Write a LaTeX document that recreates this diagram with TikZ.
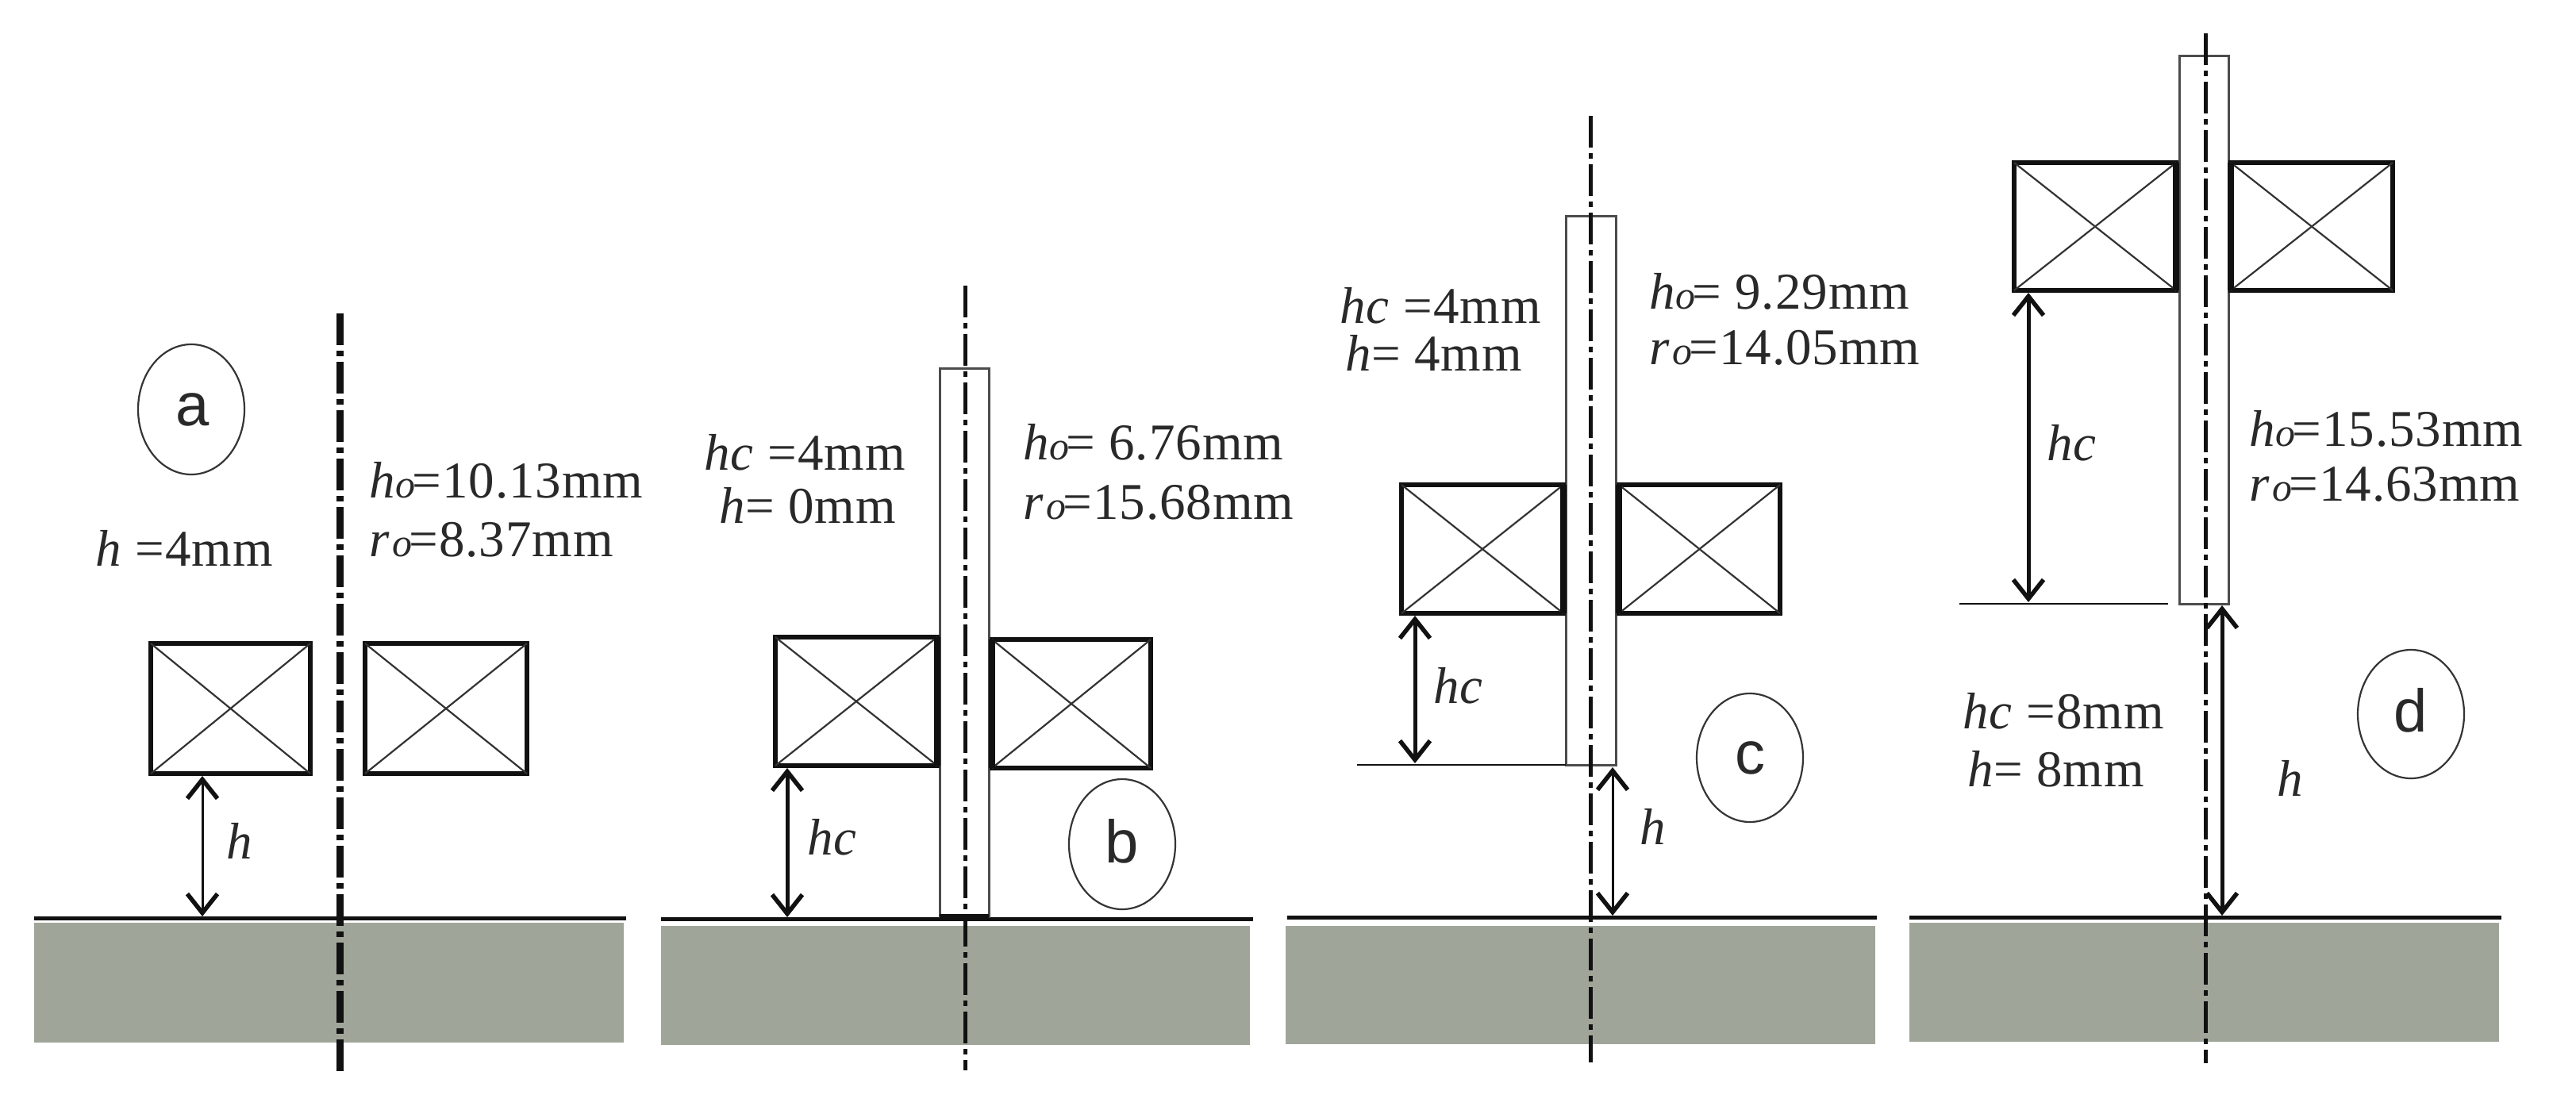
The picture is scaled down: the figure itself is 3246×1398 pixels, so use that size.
\documentclass[tikz,border=0pt]{standalone}
\usepackage{fontspec}
\setmainfont[LetterSpace=1.5]{Liberation Serif}
\newfontfamily\lblsans{Liberation Sans}
\usetikzlibrary{arrows.meta,calc,shapes.geometric}
\definecolor{groundgray}{HTML}{A0A59A}
\definecolor{inkblack}{HTML}{111111}
\newcommand{\mybox}[6][]{% style, name, x1,y1,x2,y2
  \path let \n1={#5-#3},\n2={#6-#4} in node[coilbox,#1,minimum width=\n1 pt,minimum height=\n2 pt] (#2) at ({(#3+#5)/2},{(#4+#6)/2}) {};}
\newcommand{\coilx}[6][]{%
  \mybox[#1]{#2}{#3}{#4}{#5}{#6}
  \draw[crossline] (#2.north west) -- (#2.south east);
  \draw[crossline] (#2.north east) -- (#2.south west);}
\newcommand{\il}[1]{\textit{#1}}
\newcommand{\smallo}{{\itshape\fontsize{50}{50}\selectfont o}\kern-4pt}
\newcommand{\hzero}{\il{h}\smallo}
\newcommand{\rzero}{\il{r}\kern3pt\smallo}
\tikzset{
  x=1pt,y=-1pt,
  coilbox/.style={draw=inkblack,line width=5.5pt,inner sep=0pt,outer sep=0pt},
  crossline/.style={draw=black!80,line width=2.2pt},
  rodbox/.style={coilbox,draw=black!70,line width=3pt,fill=white},
  axisline/.style={draw=inkblack,line width=5pt,dash pattern=on 40pt off 7pt on 7pt off 7pt},
  axisbold/.style={axisline,line width=9pt},
  groundline/.style={draw=inkblack,line width=5pt},
  groundbox/.style={fill=groundgray,draw=none,inner sep=0pt,outer sep=0pt},
  dimarrow/.style={draw=inkblack,line width=5pt,{Straight Barb[length=24pt,width=38pt,line width=5.5pt]}-{Straight Barb[length=24pt,width=38pt,line width=5.5pt]}},
  dimthin/.style={dimarrow,line width=3pt},
  refrule/.style={draw=inkblack,line width=2.8pt},
  innerside/.style={draw=inkblack,line width=7.5pt},
  txt/.style={anchor=base west,inner sep=0pt,outer sep=0pt,font=\fontsize{65}{65}\selectfont,text=inkblack!90},
  casecircle/.style={draw=inkblack!85,line width=2.2pt,ellipse,inner sep=0pt},
  caselabel/.style={inner sep=0pt,font=\lblsans\fontsize{76}{76}\selectfont,text=inkblack!90},
}
\begin{document}
\begin{tikzpicture}
\useasboundingbox (0,0) rectangle (3246,1398);
\fill[white] (0,0) rectangle (3246,1398);
% ---------- ground
\node[groundbox,minimum width=743pt,minimum height=151pt] (ga) at (414.5,1238.5) {};
\node[groundbox,minimum width=742pt,minimum height=150pt] (gb) at (1204,1241.5) {};
\node[groundbox,minimum width=743pt,minimum height=149pt] (gc) at (1991.5,1241.5) {};
\node[groundbox,minimum width=743pt,minimum height=150pt] (gd) at (2777.5,1238) {};
\coordinate (la) at (43,1157); \coordinate (ra) at (789,1157);
\coordinate (lb) at (833,1158); \coordinate (rb) at (1579,1158);
\coordinate (lc) at (1622,1156); \coordinate (rc) at (2365,1156);
\coordinate (ld) at (2406,1156); \coordinate (rd) at (3152,1156);
\draw[groundline] (la) -- (ra);
\draw[groundline] (lb) -- (rb);
\draw[groundline] (lc) -- (rc);
\draw[groundline] (ld) -- (rd);
% ---------- rods
\mybox[rodbox]{rodb}{1184}{464}{1246}{1155}
\mybox[rodbox]{rodc}{1973}{272}{2036}{964}
\mybox[rodbox]{rodd}{2746}{70}{2808}{761}
\draw[inkblack,line width=6pt] (rodb.south west) -- (rodb.south east);
% ---------- coils
\coilx{ca1}{190}{811}{391}{975}
\coilx{ca2}{460}{811}{664}{975}
\coilx{cb1}{977}{803}{1181}{965}
\coilx{cb2}{1250}{806}{1450}{968}
\coilx{cc1}{1766}{611}{1970}{773}
\coilx{cc2}{2040}{611}{2243}{773}
\coilx{cd1}{2538}{205}{2742}{366}
\coilx{cd2}{2811}{205}{3015}{366}
\draw[innerside] (cb1.north east) -- (cb1.south east);
\draw[innerside] (cb2.north west) -- (cb2.south west);
\draw[innerside] (cc1.north east) -- (cc1.south east);
\draw[innerside] (cc2.north west) -- (cc2.south west);
\draw[innerside] (cd1.north east) -- (cd1.south east);
\draw[innerside] (cd2.north west) -- (cd2.south west);
% ---------- axes
\coordinate (axat) at (428,395); \coordinate (axab) at (428,1351);
\coordinate (axbt) at (1216,360); \coordinate (axbb) at (1216,1349);
\coordinate (axct) at (2004,146); \coordinate (axcb) at (2004,1339);
\coordinate (axdt) at (2779,42); \coordinate (axdb) at (2779,1340);
\draw[axisbold] (axat) -- (axab);
\draw[axisline] (axbt) -- (axbb);
\draw[axisline] (axct) -- (axcb);
\draw[axisline] (axdt) -- (axdb);
% ---------- reference lines
\coordinate (refc) at (1710,964); \draw[refrule] (refc) -- (rodc.south west);
\coordinate (refd1) at (2469,761); \coordinate (refd2) at (2732,761); \draw[refrule] (refd1) -- (refd2);
% ---------- dimension arrows
\coordinate (a1t) at (255,978); \coordinate (a1b) at (255,1155);
\coordinate (b1t) at (992,968); \coordinate (b1b) at (992,1156);
\coordinate (c1t) at (1783,776); \coordinate (c1b) at (1783,962);
\coordinate (c2t) at (2032,967); \coordinate (c2b) at (2032,1154);
\coordinate (d1t) at (2556,369); \coordinate (d1b) at (2556,759);
\coordinate (d2t) at (2800,763); \coordinate (d2b) at (2800,1154);
\draw[dimthin] (a1t) -- (a1b);
\draw[dimarrow] (b1t) -- (b1b);
\draw[dimarrow] (c1t) -- (c1b);
\draw[dimthin] (c2t) -- (c2b);
\draw[dimarrow] (d1t) -- (d1b);
\draw[dimarrow] (d2t) -- (d2b);
% ---------- case labels
\node[casecircle,minimum width=134pt,minimum height=164pt] (circa) at (241,516) {};
\node[caselabel] (la1) at (243,516) {a};
\node[casecircle,minimum width=134pt,minimum height=164pt] (circb) at (1414,1064) {};
\node[caselabel] (lb1) at (1414,1060) {b};
\node[casecircle,minimum width=134pt,minimum height=162pt] (circc) at (2205,955) {};
\node[caselabel] (lc1) at (2205,955) {c};
\node[casecircle,minimum width=134pt,minimum height=162pt] (circd) at (3038,900) {};
\node[caselabel] (ld1) at (3038,895) {d};
% ---------- texts
\node[txt] (ta1) at (120,713) {\il{h} =4mm};
\node[txt] (ta2) at (465,627) {\hzero=10.13mm};
\node[txt] (ta3) at (465,701) {\rzero=8.37mm};
\node[txt] (ta4) at (285,1082) {\il{h}};
\node[txt] (tb1) at (887,592) {\il{hc} =4mm};
\node[txt] (tb2) at (906,659) {\il{h}= 0mm};
\node[txt] (tb3) at (1289,579) {\hzero= 6.76mm};
\node[txt] (tb4) at (1289,654) {\rzero=15.68mm};
\node[txt] (tb5) at (1017,1077) {\il{hc}};
\node[txt] (tc1) at (1688,407) {\il{hc} =4mm};
\node[txt] (tc2) at (1695,467) {\il{h}= 4mm};
\node[txt] (tc3) at (2078,389) {\hzero= 9.29mm};
\node[txt] (tc4) at (2078,459) {\rzero=14.05mm};
\node[txt] (tc5) at (1806,886) {\il{hc}};
\node[txt] (tc6) at (2066,1064) {\il{h}};
\node[txt] (td1) at (2473,918) {\il{hc} =8mm};
\node[txt] (td2) at (2479,991) {\il{h}= 8mm};
\node[txt] (td3) at (2834,562) {\hzero=15.53mm};
\node[txt] (td4) at (2834,631) {\rzero=14.63mm};
\node[txt] (td5) at (2579,580) {\il{hc}};
\node[txt] (td6) at (2869,1003) {\il{h}};
\end{tikzpicture}
\end{document}
